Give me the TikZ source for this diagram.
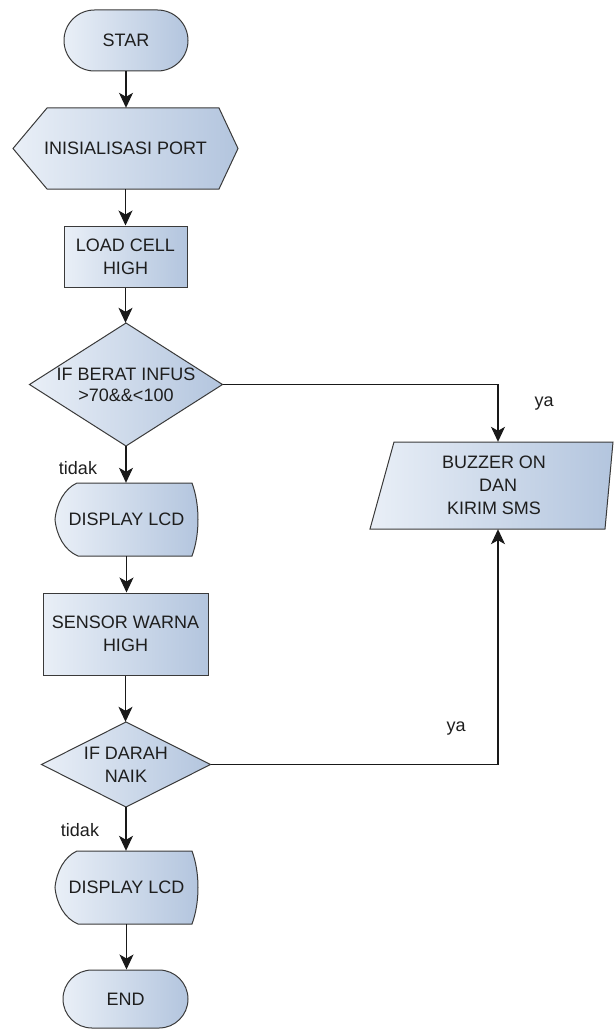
\documentclass[tikz,border=0pt]{standalone}
\usepackage{fontspec}
\setmainfont{Liberation Sans}
\usetikzlibrary{shapes.misc,arrows.meta,calc}
\pgfdeclarelayer{background}
\pgfsetlayers{background,main}
\definecolor{fillL}{HTML}{E9EFF7}
\definecolor{fillR}{HTML}{B3C5DE}
\definecolor{edgecol}{HTML}{3A3A3A}
\definecolor{txtcol}{HTML}{1E1E1E}
\tikzset{
  shp/.style={draw=edgecol, line width=1pt, left color=fillL, right color=fillR},
  lbl/.style={font=\fontsize{18}{23}\selectfont, align=center, inner sep=0pt, text=txtcol},
  arr/.style={draw=black!90, line width=1.1pt, -{Stealth[length=15pt,width=14pt,inset=4pt]}},
}
\begin{document}
\begin{tikzpicture}[x=1pt,y=-1pt]
\useasboundingbox (0,0) rectangle (614,1030);

% nodes
\node[lbl, shp, rounded rectangle, minimum width=124pt, minimum height=61pt] (star) at (126,40.5) {STAR};
\node[lbl, minimum width=225pt, minimum height=81pt] (init) at (125.5,148.5) {INISIALISASI PORT};
\node[lbl, shp, rectangle, minimum width=123pt, minimum height=61pt] (load) at (125.5,256.5) {LOAD CELL\\HIGH};
\node[lbl, minimum width=193pt, minimum height=123pt] (d1) at (126,384.5) {IF BERAT INFUS\\[-2pt]>70\&\&<100};
\node[lbl, minimum width=143pt, minimum height=73pt] (lcd1) at (126.5,519.5) {DISPLAY LCD};
\node[lbl, shp, rectangle, minimum width=165pt, minimum height=82pt] (sensor) at (125.5,634) {SENSOR WARNA\\HIGH};
\node[lbl, minimum width=169pt, minimum height=85pt] (d2) at (126,764.5) {IF DARAH\\NAIK};
\node[lbl, minimum width=143pt, minimum height=73pt] (lcd2) at (126.5,887.5) {DISPLAY LCD};
\node[lbl, shp, rounded rectangle, minimum width=125pt, minimum height=58pt] (end) at (125.5,999) {END};
\node[lbl, minimum width=200pt, minimum height=87pt] (buzz) at (494,485.5) {BUZZER ON\\\hspace*{8pt}DAN\\KIRIM SMS};

\node[lbl] (ya1) at (544,404) {ya};
\node[lbl] (ya2) at (456,729) {ya};
\node[lbl] (t1) at (78,468) {tidak};
\node[lbl] (t2) at (80,830) {tidak};

% custom outlines
\begin{pgfonlayer}{background}
  \begin{scope}[shift={(init.center)}]
    \path[shp] (-112.5,0) -- (-78.5,-40.5) -- (93.5,-40.5) -- (112.5,0) -- (93.5,40.5) -- (-78.5,40.5) -- cycle;
  \end{scope}
  \begin{scope}[shift={(d1.center)}]
    \path[shp] (-96.5,0) -- (0,-61.5) -- (96.5,0) -- (0,61.5) -- cycle;
  \end{scope}
  \begin{scope}[shift={(d2.center)}]
    \path[shp] (-84.5,0) -- (0,-42.5) -- (84.5,0) -- (0,42.5) -- cycle;
  \end{scope}
  \foreach \n in {lcd1,lcd2}{
    \begin{scope}[shift={(\n.center)}]
      \path[shp] (-49.5,-36.5) -- (65.5,-36.5)
        .. controls (73.5,-15) and (73.5,15) .. (65.5,36.5)
        -- (-48.5,36.5)
        .. controls (-62,31) and (-70,16) .. (-71.5,0)
        .. controls (-70,-16) and (-62,-31) .. (-49.5,-36.5) -- cycle;
    \end{scope}
  }
  \path[shp] (394,442) -- (613,442) -- (605,529) -- (370,529) -- cycle;
\end{pgfonlayer}

% connectors
\draw[arr] (star.south) -- (star.south |- init.north);
\draw[arr] (init.south) -- (init.south |- load.north);
\draw[arr] (load.south) -- (load.south |- d1.north);
\draw[arr] (d1.south) -- (d1.south |- lcd1.north);
\draw[arr] (lcd1.south) -- (lcd1.south |- sensor.north);
\draw[arr] (sensor.south) -- (sensor.south |- d2.north);
\draw[arr] (d2.south) -- (d2.south |- lcd2.north);
\draw[arr] (lcd2.south) -- (lcd2.south |- end.north);
\draw[arr] (d1.east) -| ([xshift=4pt]buzz.north);
\draw[arr] (d2.east) -| ([xshift=4pt]buzz.south);
\end{tikzpicture}
\end{document}
